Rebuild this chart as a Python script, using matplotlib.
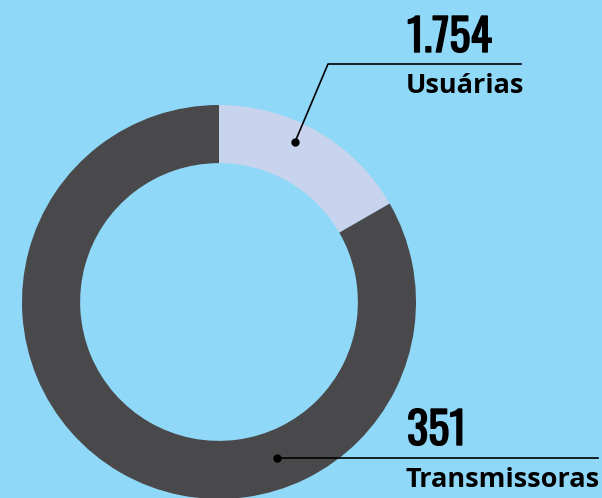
import matplotlib
matplotlib.use('Agg')
from matplotlib import pyplot as plt
from matplotlib import patheffects as pe

# donut values (light slice first, clockwise from 12 o'clock)
slice_values = [351, 1754]
slice_colors = ['#c8d3ee', '#49484a']

label_numbers = ['1.754', '351']
label_names = ['Usuárias', 'Transmissoras']

W, H = 602, 498
bg = '#8fd8f8'

fig = plt.figure(figsize=(W / 100, H / 100), dpi=100)
fig.patch.set_facecolor(bg)
ax = fig.add_axes([0, 0, 1, 1])
ax.set_facecolor(bg)

# pixel-like coordinates, y measured up from the bottom
cx, cy, r = 219, H - 302, 197
ax.pie(slice_values, colors=slice_colors, startangle=90, counterclock=False,
       center=(cx, cy), radius=r,
       wedgeprops=dict(width=r * 0.295, linewidth=0))
ax.set_xlim(0, W)
ax.set_ylim(0, H)
ax.set_aspect('equal')
ax.axis('off')

# Oswald only comes in regular here, a thin stroke makes it heavier
bold = [pe.withStroke(linewidth=1.0, foreground='black')]
num_font = dict(family=['Oswald', 'DejaVu Sans'], fontsize=32, color='black',
                path_effects=bold)
name_font = dict(family=['Open Sans', 'DejaVu Sans'], weight='bold',
                 fontsize=19.5, color='black')

# top annotation: Usuárias
ax.plot([295, 328, 521], [H - 142, H - 64, H - 64], color='black', lw=1.2)
ax.plot(295, H - 142, 'o', color='black', ms=5)
ax.text(407, H - 52, label_numbers[0], ha='left', va='baseline', **num_font)
ax.text(406, H - 93, label_names[0], ha='left', va='baseline', **name_font)

# bottom annotation: Transmissoras
ax.plot([277, 598], [H - 458, H - 458], color='black', lw=1.2)
ax.plot(277, H - 458, 'o', color='black', ms=5)
ax.text(407, H - 445, label_numbers[1], ha='left', va='baseline', **num_font)
ax.text(406, H - 487, label_names[1], ha='left', va='baseline', **name_font)

fig.savefig('out.png', dpi=100, facecolor=bg)
